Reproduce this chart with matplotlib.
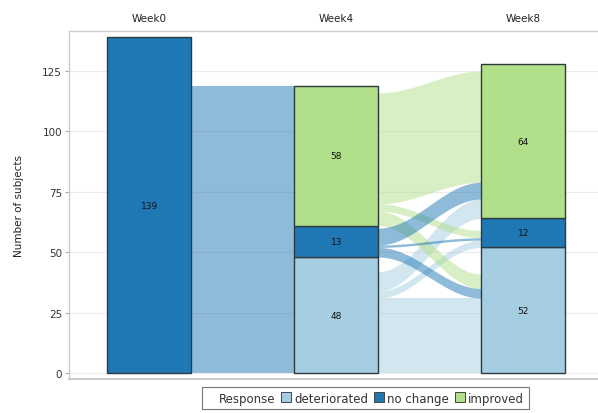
import numpy as np
import matplotlib
matplotlib.use('Agg')
import matplotlib.pyplot as plt
from matplotlib.lines import Line2D

# datos
weeks = ['Week0', 'Week4', 'Week8']
categories = ['deteriorated', 'no change', 'improved']
colors = ['#a6cee3', '#1f78b4', '#b2df8a']

week0_counts = [0, 139, 0]
week4_counts = [48, 13, 58]
week8_counts = [52, 12, 64]

# flujos: filas = origen, columnas = destino (deteriorated, no change, improved)
flows_0_4 = [[0, 0, 0],
             [48, 13, 58],
             [0, 0, 0]]
flows_4_8 = [[31, 3, 8],
             [4, 1, 7],
             [6, 3, 46]]

counts = [week0_counts, week4_counts, week8_counts]
flows = [flows_0_4, flows_4_8]

bar_w = 0.45

fig = plt.figure(figsize=(5.98, 4.14), dpi=100)
ax = fig.add_axes([0.1154, 0.0821, 0.885, 0.8406])


def smooth(t):
    return (1 - np.cos(np.pi * t)) / 2


# bandas entre columnas
t = np.linspace(0, 1, 100)
for k, F in enumerate(flows):
    F = np.array(F, dtype=float)
    src = counts[k]
    dst = counts[k + 1]
    src_pos = np.concatenate([[0], np.cumsum(src)[:-1]]).astype(float)
    dst_pos = np.concatenate([[0], np.cumsum(dst)[:-1]]).astype(float)
    bands = []
    for i in range(3):
        for j in range(3):
            v = F[i, j]
            if v <= 0:
                continue
            bands.append((i, src_pos[i], dst_pos[j], v))
            src_pos[i] += v
            dst_pos[j] += v
    x0 = k + bar_w / 2
    x1 = k + 1 - bar_w / 2
    xs = x0 + (x1 - x0) * t
    for order in [0, 2, 1]:
        for (i, y0, y1, v) in bands:
            if i != order:
                continue
            low = y0 + (y1 - y0) * smooth(t)
            ax.fill_between(xs, low, low + v, color=colors[i], alpha=0.5,
                            linewidth=0, zorder=2)

# barras apiladas
for k, c in enumerate(counts):
    bottom = 0
    for j in range(3):
        if c[j] > 0:
            ax.bar(k, c[j], bottom=bottom, width=bar_w, color=colors[j],
                   edgecolor='#2e3a40', linewidth=1, zorder=3)
            ax.text(k, bottom + c[j] / 2, str(c[j]), ha='center', va='center',
                    fontsize=6.5, color='#111111', zorder=4)
        bottom += c[j]

ax.set_xlim(-0.428, 2.40)
ax.set_ylim(-2.5, 141.6)
ax.set_yticks([0, 25, 50, 75, 100, 125])
ax.yaxis.grid(True, color='#ececec', linewidth=0.8, zorder=0)
ax.set_axisbelow(True)

ax.set_xticks(range(3))
ax.set_xticklabels(weeks)
ax.xaxis.tick_top()
ax.tick_params(axis='x', length=0, pad=6, labelsize=7.5, labelcolor='#222222')
ax.tick_params(axis='y', length=3, color='#aaaaaa', labelsize=7.5,
               labelcolor='#333333', pad=2)
ax.set_ylabel('Number of subjects', fontsize=7.5, color='#222222', labelpad=13)

for s in ['left', 'top']:
    ax.spines[s].set_color('#cccccc')
    ax.spines[s].set_linewidth(1)
ax.spines['bottom'].set_color('#cccccc')
ax.spines['bottom'].set_linewidth(1.5)
ax.spines['right'].set_visible(False)

# leyenda
handles = [Line2D([], [], linestyle='none')]
labels = ['Response']
for j in range(3):
    handles.append(Line2D([], [], linestyle='none', marker='s', markersize=6.5,
                          markerfacecolor=colors[j], markeredgecolor='#444444',
                          markeredgewidth=0.7))
    labels.append(categories[j])
leg = fig.legend(handles, labels, ncol=4, loc='center',
                 bbox_to_anchor=(0.611, 0.036), fontsize=8.5, frameon=True,
                 fancybox=False, edgecolor='#555555', handlelength=0.7,
                 handletextpad=0.35, columnspacing=0.55, borderpad=0.4)
leg.get_frame().set_linewidth(0.8)
for txt in leg.get_texts():
    txt.set_color('#333333')

fig.savefig('out.png', dpi=100)
